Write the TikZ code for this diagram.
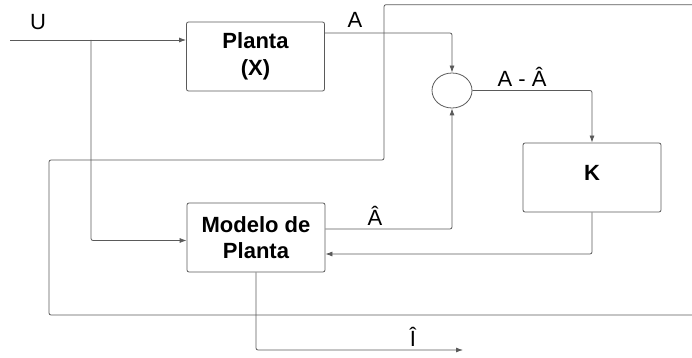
\documentclass[tikz,border=0pt]{standalone}
\usepackage{fontspec}
\setmainfont{Liberation Sans}
\usetikzlibrary{arrows.meta,shapes.geometric,calc}
\definecolor{linegray}{HTML}{5A5A5A}
\tikzset{
  blockbox/.style={draw=linegray,line width=0.8pt,rounded corners=2pt,minimum width=138pt,minimum height=69pt,inner sep=0pt,align=center,font=\fontsize{22}{26.5}\selectfont\bfseries},
  sumnode/.style={draw=linegray,line width=0.8pt,ellipse,minimum width=40pt,minimum height=35pt,inner sep=0pt},
  wire/.style={draw=linegray,line width=0.8pt,rounded corners=2pt},
  arrowwire/.style={wire,-{Latex[length=7pt,width=5pt]}},
  lbl/.style={anchor=base,font=\fontsize{22}{26}\selectfont,inner sep=0pt}
}
\begin{document}
\begin{tikzpicture}[x=1pt,y=-1pt]
\useasboundingbox (0,0) rectangle (692,358);
\node[blockbox] (planta) at (255.5,56.5) {Planta\\(X)};
\node[blockbox] (modelo) at (256,237.5) {Modelo de\\Planta};
\node[blockbox,text height=16pt,text depth=11pt] (k) at (592,177.5) {K};
\node[sumnode] (sum) at (452,90.5) {};
\coordinate (in) at (10,40);
\coordinate (j1) at (91,40);
\coordinate (j2) at (91,240.5);
\coordinate (aout) at (325,33);
\coordinate (iout) at (463,350);
% input
\draw[arrowwire] (in) -- (in -| planta.west);
\draw[arrowwire] (j1) |- (j2 -| modelo.west);
% plant output to summer
\draw[arrowwire] (aout) -| (sum.north);
% summer to K
\draw[arrowwire] (sum.east) -| (k.north);
% K back to model
\draw[arrowwire] (k.south) |- ([yshift=-16.5pt]modelo.east);
% model output to summer
\draw[arrowwire] ([yshift=8.5pt]modelo.east) -| (sum.south);
% model output down
\draw[arrowwire] (modelo.south) |- (iout);
% big frame line
\draw[wire] (692,4.7) -- (384,4.7) -- (384,160) -- (49,160) -- (49,315) -- (692,315);
% labels
\node[lbl] (lu) at (38,30) {U};
\node[lbl] (la) at (355,28) {A};
\node[lbl] (lamh) at (522,87) {A - Â};
\node[lbl] (lah) at (375,225) {Â};
\node[lbl] (lih) at (413,346) {Î};
\end{tikzpicture}
\end{document}
